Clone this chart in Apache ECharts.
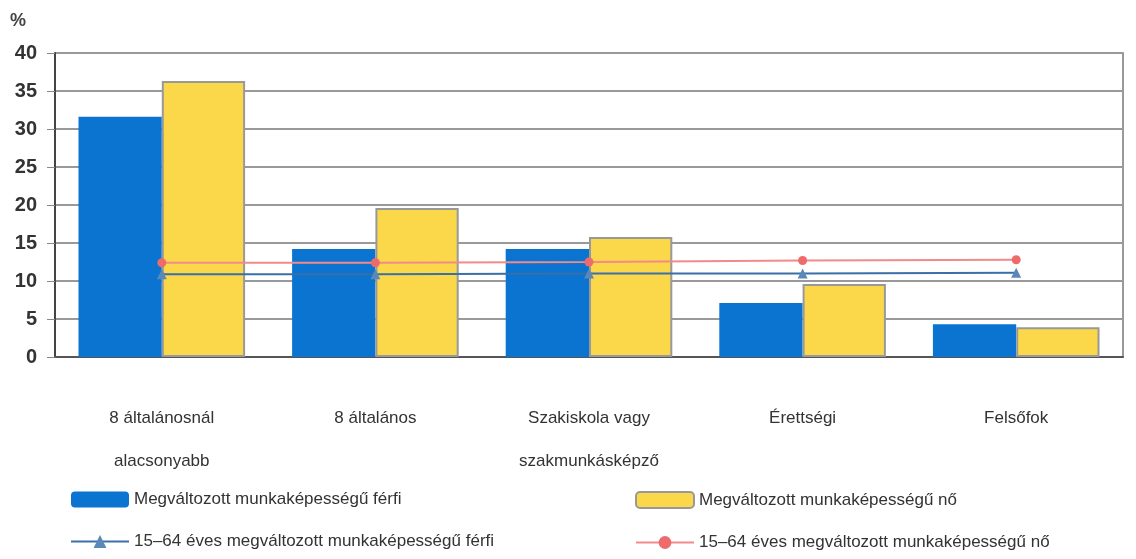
<!DOCTYPE html>
<html><head><meta charset="utf-8">
<script src="https://cdn.jsdelivr.net/npm/echarts@6/dist/echarts.min.js"></script>
<style>html,body{margin:0;padding:0;background:#fff}#c{width:1136px;height:559px}</style>
</head><body><div id="c"></div>
<script>
const categories = ['8 általánosnál\nalacsonyabb', '8 általános', 'Szakiskola vagy\nszakmunkásképző', 'Érettségi', 'Felsőfok'];
const ferfi = [31.6, 14.2, 14.2, 7.1, 4.3];
const no = [36.3, 19.6, 15.8, 9.6, 3.9];
const ferfiAll = [10.9, 10.9, 11.0, 11.0, 11.1];
const noAll = [12.4, 12.4, 12.5, 12.7, 12.8];
const yTicks = [0, 5, 10, 15, 20, 25, 30, 35, 40];

const names = ['Megváltozott munkaképességű férfi', 'Megváltozott munkaképességű nő',
  '15–64 éves megváltozott munkaképességű férfi', '15–64 éves megváltozott munkaképességű nő'];
const font = 'Liberation Sans, Arial, sans-serif';
const chart = echarts.init(document.getElementById('c'));
chart.setOption({
  backgroundColor: '#fff',
  animation: false,
  textStyle: { fontFamily: font },
  grid: { left: 55, right: 13, top: 53, bottom: 202 },
  graphic: [{ type: 'text', left: 10, top: 12, style: { text: '%', font: 'bold 18px ' + font, fill: '#444' } }],
  legend: [
    { data: [names[0], names[2]], orient: 'vertical', left: 65, top: 486, itemGap: 25, itemWidth: 58, itemHeight: 16,
      textStyle: { fontSize: 17, color: '#333', fontFamily: font } },
    { data: [names[1], names[3]], orient: 'vertical', left: 630, top: 486, itemGap: 25, itemWidth: 58, itemHeight: 16,
      textStyle: { fontSize: 17, color: '#333', fontFamily: font } }
  ],
  xAxis: {
    type: 'category', data: categories,
    axisLine: { lineStyle: { color: '#555', width: 2 } },
    axisTick: { show: false },
    axisLabel: { fontSize: 17, color: '#333', lineHeight: 43, margin: 40, interval: 0 },
    splitLine: { show: false }
  },
  yAxis: [{
    type: 'value', min: 0, max: 40, interval: 5,
    axisLine: { show: true, lineStyle: { color: '#444', width: 2 } },
    axisTick: { show: true, length: 8, lineStyle: { color: '#888' } },
    axisLabel: { fontSize: 20, color: '#333', fontWeight: 'bold', margin: 18,
      formatter: v => yTicks.includes(v) ? String(v) : '' },
    splitLine: { lineStyle: { color: '#999', width: 2 } }
  }, {
    type: 'value', min: 0, max: 40, interval: 5, position: 'right',
    axisLine: { show: true, lineStyle: { color: '#999', width: 2 } },
    axisTick: { show: false }, axisLabel: { show: false }, splitLine: { show: false }
  }],
  series: [
    { name: names[0], type: 'bar', data: ferfi, barGap: '0%', barCategoryGap: '22%',
      itemStyle: { color: '#0a74d0' } },
    { name: names[1], type: 'bar', data: no,
      itemStyle: { color: '#fbd84a', borderColor: '#999', borderWidth: 2 } },
    { name: names[2], type: 'line', data: ferfiAll, symbol: 'triangle', symbolSize: 10,
      lineStyle: { color: '#3a6fa8', width: 2 }, itemStyle: { color: '#5a88b8' } },
    { name: names[3], type: 'line', data: noAll, symbol: 'circle', symbolSize: 9,
      lineStyle: { color: '#f28a8a', width: 2 }, itemStyle: { color: '#ef6a6a' } }
  ]
});
</script></body></html>
